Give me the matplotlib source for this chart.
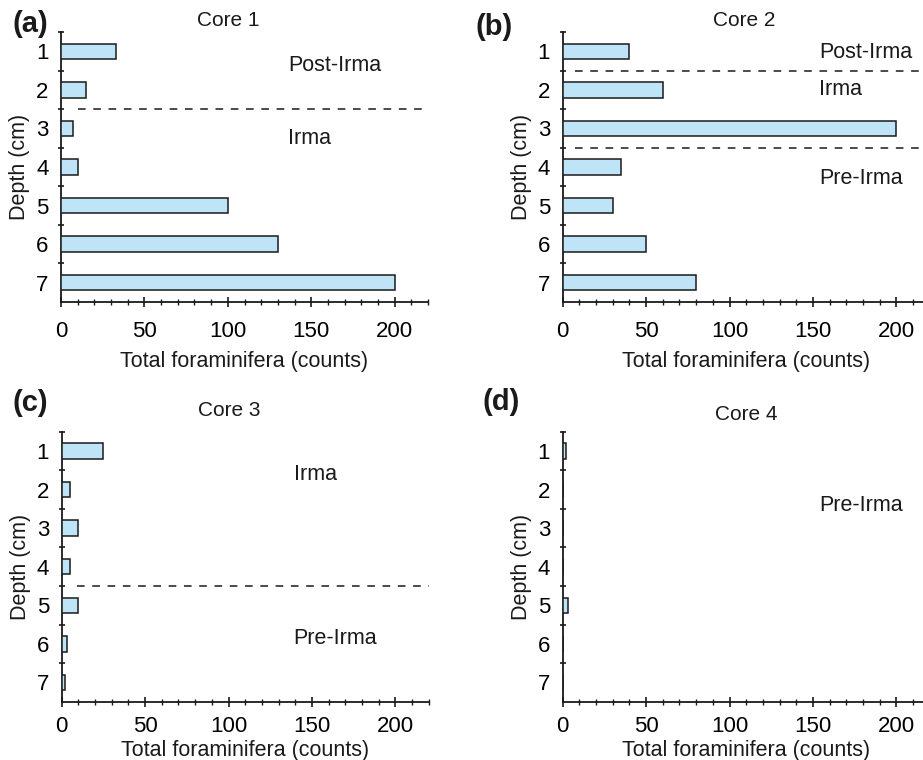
import matplotlib
matplotlib.use('Agg')
import matplotlib.pyplot as plt
from matplotlib.ticker import MultipleLocator, FixedLocator

plt.rcParams['font.family'] = ['Liberation Sans', 'DejaVu Sans']

# adancimi (cm) si numar total de foraminifere pe fiecare carota
depth = [1, 2, 3, 4, 5, 6, 7]
core1 = [33, 15, 7, 10, 100, 130, 200]
core2 = [40, 60, 200, 35, 30, 50, 80]
core3 = [25, 5, 10, 5, 10, 3, 2]
core4 = [2, 0, 0, 0, 3, 0, 0]

core_titles = ['Core 1', 'Core 2', 'Core 3', 'Core 4']
panel_letters = ['(a)', '(b)', '(c)', '(d)']

# limite intre unitati (linii punctate) si etichetele lor
core1_breaks = [2.5]
core2_breaks = [1.5, 3.5]
core3_breaks = [4.5]
core4_breaks = []

core1_units = [('Post-Irma', 1.38), ('Irma', 3.25)]
core2_units = [('Post-Irma', 1.03), ('Irma', 2.0), ('Pre-Irma', 4.3)]
core3_units = [('Irma', 1.62), ('Pre-Irma', 5.85)]
core4_units = [('Pre-Irma', 2.42)]

bar_color = '#bfe4f7'
ink = '#1a1a1a'

W, H = 923, 760
fig = plt.figure(figsize=(W / 100, H / 100), dpi=100)


def axes_px(left, top, right, bottom):
    # pozitia in pixeli -> fractiuni din figura
    return [left / W, 1 - bottom / H, (right - left) / W, (bottom - top) / H]


panels = [
    # (pozitie, valori, limite, unitati, x text unitati, x titlu, y titlu, pad ticks, pad label, x start linie)
    (axes_px(61, 32, 428, 302), core1, core1_breaks, core1_units, 136, 100, 1.044, 10, 7, 10),
    (axes_px(562.7, 32, 929.7, 302), core2, core2_breaks, core2_units, 153.5, 109, 1.044, 10, 7, 7.5),
    (axes_px(61.7, 431.7, 428.7, 701.7), core3, core3_breaks, core3_units, 139, 100.5, 1.08, 7, 2, 9),
    (axes_px(562.7, 431.7, 929.7, 701.7), core4, core4_breaks, core4_units, 153.5, 110, 1.062, 7, 2, 9),
]

for i, (pos, vals, breaks, units, ux, tx, ty, tpad, lpad, lx0) in enumerate(panels):
    ax = fig.add_axes(pos)
    ax.barh(depth, vals, height=0.4, color=bar_color, edgecolor=ink, linewidth=1.1, zorder=3)

    ax.set_xlim(0, 220)
    ax.set_ylim(7.5, 0.5)

    for spine in ['top', 'right']:
        ax.spines[spine].set_visible(False)
    for spine in ['left', 'bottom']:
        ax.spines[spine].set_linewidth(1.3)
        ax.spines[spine].set_color(ink)

    # axa x: ticks principale la 50, secundare la 10
    ax.xaxis.set_major_locator(MultipleLocator(50))
    ax.xaxis.set_minor_locator(MultipleLocator(10))
    ax.tick_params(axis='x', which='major', direction='inout', length=7, width=1.2,
                   color=ink, labelsize=16, pad=tpad)
    ax.tick_params(axis='x', which='minor', direction='inout', length=4, width=1.0, color=ink)

    # axa y: etichete la centru, ticks mici intre adancimi
    ax.yaxis.set_major_locator(FixedLocator(depth))
    ax.yaxis.set_minor_locator(FixedLocator([0.5, 1.5, 2.5, 3.5, 4.5, 5.5, 6.5]))
    ax.tick_params(axis='y', which='major', length=0, labelsize=16, pad=9)
    ax.tick_params(axis='y', which='minor', direction='inout', length=5, width=1.2, color=ink)

    ax.set_xlabel('Total foraminifera (counts)', fontsize=15.5, labelpad=lpad, color=ink)
    ax.set_ylabel('Depth (cm)', fontsize=15.5, labelpad=4, color=ink)

    for b in breaks:
        ax.plot([lx0, 220], [b, b], linestyle=(0, (5, 5)), color=ink, linewidth=1.1, clip_on=False)

    for name, y in units:
        ax.text(ux, y, name, fontsize=15.5, ha='left', va='center', color=ink)

    ax.text(tx, ty, core_titles[i], transform=ax.get_xaxis_transform(),
            fontsize=15, ha='center', va='center', color=ink)

# literele panourilor
fig.text(13 / W, 1 - 24 / H, panel_letters[0], fontsize=21, fontweight='bold', va='center', color=ink)
fig.text(475 / W, 1 - 27 / H, panel_letters[1], fontsize=21, fontweight='bold', va='center', color=ink)
fig.text(13 / W, 1 - 403 / H, panel_letters[2], fontsize=21, fontweight='bold', va='center', color=ink)
fig.text(483 / W, 1 - 402 / H, panel_letters[3], fontsize=21, fontweight='bold', va='center', color=ink)

plt.savefig('out.png', dpi=100)
plt.close()
